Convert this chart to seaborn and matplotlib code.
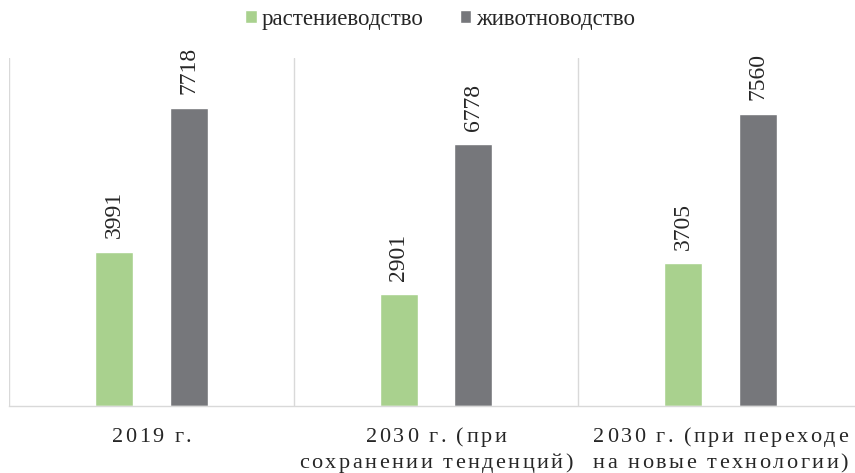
import matplotlib
matplotlib.use("Agg")
import matplotlib.pyplot as plt
import matplotlib.transforms as mtransforms
from matplotlib.font_manager import FontProperties
import seaborn as sns
import pandas as pd

categories = ["2019 г.", "2030 г. (при\nсохранении тенденций)", "2030 г. (при переходе\nна новые технологии)"]
series_names = ["растениеводство", "животноводство"]
crop_values = [3991, 2901, 3705]
livestock_values = [7718, 6778, 7560]
colors = ["#a9d18e", "#76777b"]

df = pd.DataFrame({
    "category": categories * 2,
    "series": [series_names[0]] * 3 + [series_names[1]] * 3,
    "value": crop_values + livestock_values,
})

sns.set_theme(style="white")
plt.rcParams["font.family"] = ["Liberation Serif", "DejaVu Serif"]
TEXT = "#262626"

W, H = 855, 473
fig = plt.figure(figsize=(W / 100, H / 100), dpi=100)
left, bottom, top = 9.25, 406, 58
ax = fig.add_axes([left / W, 1 - bottom / H, 853.5 / W, (bottom - top) / H])

sns.barplot(data=df, x="category", y="value", hue="series", palette=colors,
            width=0.527, gap=0.493, ax=ax, legend=True, saturation=1)

ax.set_ylim(0, 9000)
ax.set_xlim(-0.5, 2.5)
ax.set_xlabel("")
ax.set_ylabel("")
ax.set_yticks([])
for s in ["top", "right", "left"]:
    ax.spines[s].set_visible(False)
ax.spines["bottom"].set_color("#d9d9d9")
ax.spines["bottom"].set_linewidth(1.0)

# category separators
for xb in [-0.5, 0.5, 1.5, 2.5]:
    ax.axvline(xb, color="#d9d9d9", lw=1.0, zorder=0)

# value labels above the bars
for container in ax.containers:
    ax.bar_label(container, fmt="%d", rotation=90, padding=9.5,
                 fontsize=17, color=TEXT)

# category labels with letter tracking
ax.set_xticks(range(len(categories)))
ax.set_xticklabels([])
ax.tick_params(axis="x", length=0)

renderer = fig.canvas.get_renderer()
prop = FontProperties(family=["Liberation Serif", "DejaVu Serif"], size=16)
tracking = 2.5
line_offsets = [-36, -62]
trans = mtransforms.blended_transform_factory(ax.transData, ax.transAxes)


def char_width(ch):
    if ch == " ":
        w_ab, _, _ = renderer.get_text_width_height_descent("a a", prop, ismath=False)
        w_aa, _, _ = renderer.get_text_width_height_descent("aa", prop, ismath=False)
        return w_ab - w_aa
    w, _, _ = renderer.get_text_width_height_descent(ch, prop, ismath=False)
    return w


for xi, label in enumerate(categories):
    for li, line in enumerate(label.split("\n")):
        widths = [char_width(c) for c in line]
        total = sum(widths) + tracking * (len(line) - 1)
        x = -total / 2
        for c, w in zip(line, widths):
            if c != " ":
                ax.annotate(c, xy=(xi, 0), xycoords=trans,
                            xytext=(x, line_offsets[li]), textcoords="offset pixels",
                            ha="left", va="baseline", fontproperties=prop,
                            color=TEXT, annotation_clip=False)
            x += w + tracking

handles, labels = ax.get_legend_handles_labels()
ax.legend_.remove()
fig.legend(handles, labels, loc="center", bbox_to_anchor=(440 / W, 1 - 19 / H),
           ncol=2, frameon=False, fontsize=16.5, handlelength=0.5, handleheight=0.5,
           handletextpad=0.2, columnspacing=1.6, labelcolor=TEXT)

fig.savefig("out.png", dpi=100)
